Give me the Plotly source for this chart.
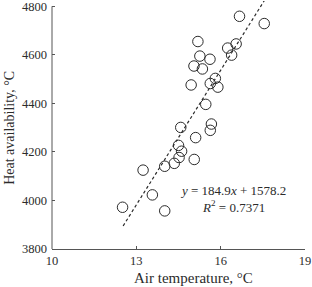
import plotly.graph_objects as go

# Data
air_temp = [16.67, 17.55, 15.19, 16.25, 16.55, 16.39, 15.26, 15.62, 15.05, 15.35,
            15.81, 15.63, 15.90, 14.95, 15.47, 14.58, 15.67, 15.63, 15.11, 14.50,
            14.61, 14.52, 15.06, 14.35, 14.01, 13.24, 13.57, 12.51, 14.01]
heat_avail = [4759, 4729, 4655, 4628, 4645, 4599, 4595, 4582, 4554, 4542,
              4503, 4482, 4467, 4476, 4396, 4301, 4315, 4289, 4259, 4227,
              4203, 4177, 4169, 4153, 4141, 4125, 4023, 3972, 3957]

slope = 184.9
intercept = 1578.2
r2 = 0.7371
trend_x = [12.53, 17.55]
trend_y = [intercept + slope * v for v in trend_x]

x_ticks = [10, 13, 16, 19]
y_ticks = [3800, 4000, 4200, 4400, 4600, 4800]

FONT = "Liberation Serif"
INK = "#2b2b2b"

fig = go.Figure()
fig.add_trace(go.Scatter(
    x=trend_x, y=trend_y, mode="lines",
    line=dict(color=INK, width=1.2, dash="3px,2.5px"),
    hoverinfo="skip", showlegend=False))
fig.add_trace(go.Scatter(
    x=air_temp, y=heat_avail, mode="markers",
    marker=dict(symbol="circle-open", size=10.5, color=INK, line=dict(width=1, color=INK)),
    showlegend=False, cliponaxis=False))

fig.update_layout(
    width=312, height=287,
    margin=dict(l=52, r=7, t=1, b=38),
    paper_bgcolor="white", plot_bgcolor="white",
    font=dict(family=FONT, size=12, color=INK),
    xaxis=dict(range=[10, 19], tickvals=x_ticks, ticks="inside", ticklen=3,
               tickcolor="#555", showline=True, linecolor="#555", linewidth=1,
               showgrid=False, zeroline=False, ticklabeloverflow="allow",
               tickfont=dict(family=FONT, size=12.5, color=INK)),
    yaxis=dict(range=[3800, 4822], tickvals=y_ticks, ticks="inside", ticklen=3,
               tickcolor="#555", showline=False, showgrid=False, zeroline=False,
               ticklabeloverflow="allow", ticklabelstandoff=4,
               tickfont=dict(family=FONT, size=12.5, color=INK)),
    shapes=[dict(type="line", xref="paper", x0=0, x1=0, yref="y", y0=3800, y1=4800,
                 line=dict(color="#555", width=1))],
    annotations=[
        dict(text="Air temperature, °C", xref="paper", yref="paper",
             x=0.56, y=-0.116, xanchor="center", yanchor="middle",
             showarrow=False, font=dict(family=FONT, size=15, color=INK)),
        dict(text="Heat availability, °C", xref="paper", yref="paper",
             x=-0.166, y=0.4885, xanchor="center", yanchor="middle", textangle=-90,
             showarrow=False, font=dict(family=FONT, size=14, color=INK)),
        dict(text=f"<i>y</i> = {slope}<i>x</i> + {intercept}<br><i>R</i><sup>2</sup> = {r2}",
             xref="x", yref="y", x=16.43, y=4006, xanchor="center", yanchor="middle",
             align="center", showarrow=False, font=dict(family=FONT, size=13, color=INK)),
    ],
)

fig.write_html("out.html")
